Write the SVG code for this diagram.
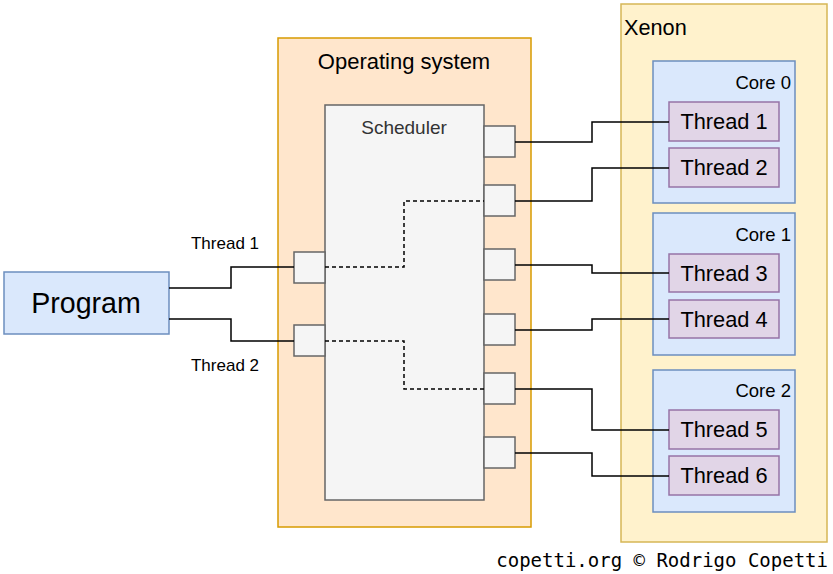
<svg xmlns="http://www.w3.org/2000/svg" width="833" height="574" viewBox="0 0 833 574">
<style>
text{font-family:"Liberation Sans",Arial,Helvetica,sans-serif;fill:#000}
.port{fill:#f5f5f5;stroke:#666;stroke-width:1.5}
.core{fill:#dae8fc;stroke:#6c8ebf;stroke-width:1.5}
.thr{fill:#e1d5e7;stroke:#9673a6;stroke-width:1.5}
.w{fill:none;stroke:#000;stroke-width:1.5}
.d{fill:none;stroke:#000;stroke-width:1.5;stroke-dasharray:4 3}
.t{font-size:21.8px;text-anchor:middle}
.c{font-size:18.5px;text-anchor:end}
.s{font-size:17px;text-anchor:middle}
</style>
<rect width="833" height="574" fill="#fff"/>
<g id="program"><rect x="4" y="272" width="165" height="62" fill="#dae8fc" stroke="#6c8ebf" stroke-width="1.5"/><text x="86" y="313" font-size="28.6" text-anchor="middle">Program</text></g>
<g id="os"><rect x="278" y="38" width="253" height="489" fill="#ffe6cc" stroke="#d79b00" stroke-width="1.5"/><text x="404" y="69" font-size="22" text-anchor="middle">Operating system</text></g>
<g id="scheduler"><rect x="325" y="105" width="159" height="395" fill="#f5f5f5" stroke="#666" stroke-width="1.5"/><text x="404" y="134" font-size="19" text-anchor="middle" style="fill:#333">Scheduler</text></g>
<g id="ports">
<rect class="port" x="294" y="252" width="31" height="31"/>
<rect class="port" x="294" y="325" width="31" height="31"/>
<rect class="port" x="484" y="126" width="31" height="31"/>
<rect class="port" x="484" y="185" width="31" height="31"/>
<rect class="port" x="484" y="249" width="31" height="31"/>
<rect class="port" x="484" y="314" width="31" height="31"/>
<rect class="port" x="484" y="373" width="31" height="31"/>
<rect class="port" x="484" y="437" width="31" height="31"/>
</g>
<g id="xenon"><rect x="621" y="4" width="206" height="538" fill="#fff2cc" stroke="#d6b656" stroke-width="1.5"/><text x="624" y="35" font-size="21.7">Xenon</text></g>
<g id="core0"><rect class="core" x="653" y="61" width="142" height="142"/><text class="c" x="791" y="89">Core 0</text></g>
<g id="core1"><rect class="core" x="653" y="213" width="142" height="142"/><text class="c" x="791" y="241">Core 1</text></g>
<g id="core2"><rect class="core" x="653" y="370" width="142" height="142"/><text class="c" x="791" y="397">Core 2</text></g>
<g id="thread1"><rect class="thr" x="669" y="102" width="110" height="39"/><text class="t" x="724" y="129">Thread 1</text></g>
<g id="thread2"><rect class="thr" x="669" y="148" width="110" height="39"/><text class="t" x="724" y="175">Thread 2</text></g>
<g id="thread3"><rect class="thr" x="669" y="254" width="110" height="38"/><text class="t" x="724" y="281">Thread 3</text></g>
<g id="thread4"><rect class="thr" x="669" y="300" width="110" height="38"/><text class="t" x="724" y="327">Thread 4</text></g>
<g id="thread5"><rect class="thr" x="669" y="410" width="110" height="39"/><text class="t" x="724" y="437">Thread 5</text></g>
<g id="thread6"><rect class="thr" x="669" y="456" width="110" height="39"/><text class="t" x="724" y="483">Thread 6</text></g>
<g id="connectors">
<path class="w" d="M169 288H231V267H294"/>
<path class="w" d="M169 319H231V341H294"/>
<path class="d" d="M325 267H404V201H484"/>
<path class="d" d="M325 341H404V389H484"/>
<path class="w" d="M515 142H592V122H669"/>
<path class="w" d="M515 201H592V168H669"/>
<path class="w" d="M515 265H592V273H669"/>
<path class="w" d="M515 330H592V319H669"/>
<path class="w" d="M515 389H592V430H669"/>
<path class="w" d="M515 453H592V476H669"/>
<text class="s" x="225" y="249">Thread 1</text>
<text class="s" x="225" y="371">Thread 2</text>
</g>
<text x="828" y="567" font-size="19" text-anchor="end" style="font-family:'DejaVu Sans Mono',monospace">copetti.org © Rodrigo Copetti</text>
</svg>
